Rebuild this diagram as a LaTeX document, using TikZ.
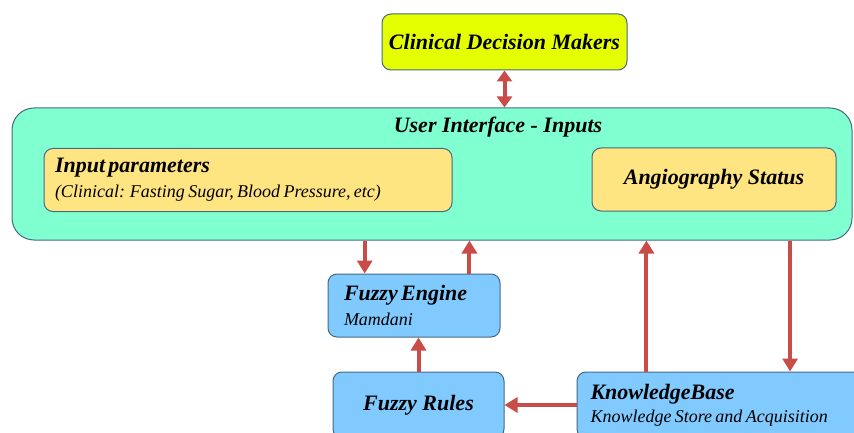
\documentclass[tikz,border=0pt]{standalone}
\usepackage{fontspec}
\setmainfont{Liberation Serif}
\usetikzlibrary{positioning,calc,arrows.meta}
\definecolor{myyellow}{RGB}{230,255,0}
\definecolor{myaqua}{RGB}{128,255,208}
\definecolor{mygold}{RGB}{255,228,130}
\definecolor{myblue}{RGB}{128,202,255}
\definecolor{myborder}{RGB}{70,105,130}
\definecolor{myred}{RGB}{200,76,72}
\newcommand{\ttl}{\fontsize{22}{26}\selectfont\bfseries\itshape}
\newcommand{\sub}{\fontsize{18}{22}\selectfont\mdseries\itshape}
\tikzstyle{box}=[draw=myborder,line width=1pt,rounded corners=9pt,inner sep=0pt]
\tikzstyle{arr}=[-{Triangle[length=13pt,width=15pt]},draw=myred,fill=myred,line width=4pt]
\tikzstyle{darr}=[{Triangle[length=11pt,width=15pt]}-{Triangle[length=11pt,width=15pt]},draw=myred,fill=myred,line width=4pt]

\begin{document}
\begin{tikzpicture}[x=1pt,y=-1pt]
      \useasboundingbox (0,0) rectangle (854,433);
      \clip (0,0) rectangle (854,433);
      \node (cdm) at (504.5,42) [box, fill=myyellow, minimum width=245pt, minimum height=56pt] {\ttl Clinical Decision Makers};
      \node (ui) at (432,174) [box, fill=myaqua, rounded corners=22pt, minimum width=840pt, minimum height=132pt] {};
      \node (uititle) at (498,127) {\ttl User Interface - Inputs};
      \node (ip) at (248,180) [box, fill=mygold, minimum width=408pt, minimum height=63pt, text width=386pt, align=left] {\ttl Input parameters\\[7pt] \sub (Clinical: Fasting Sugar, Blood Pressure, etc)};
      \node (as) at (714,179.5) [box, fill=mygold, minimum width=244pt, minimum height=63pt] {\ttl Angiography Status};

      \node (fe) at (414,305.5) [box, fill=myblue, minimum width=172pt, minimum height=63pt, text width=140pt, align=left] {\ttl Fuzzy Engine\\[7pt] \sub Mamdani};
      \node (fr) at (418.5,405) [box, fill=myblue, minimum width=171pt, minimum height=66pt] {\ttl Fuzzy Rules};
      \node (kb) at (738.5,405) [box, fill=myblue, minimum width=323pt, minimum height=66pt, text width=296pt, align=left] {\ttl KnowledgeBase\\[5pt] \sub Knowledge Store and Acquisition};

      \draw[darr] (cdm.south) -- (cdm.south |- ui.north);
      \draw[arr] (fe.147.3 |- ui.south) -- (fe.147.3);
      \draw[arr] (fe.30.3) -- (fe.30.3 |- ui.south);
      \draw[arr] (fr.north) -- (fr.north |- fe.south);
      \draw[arr] (kb.west) -- (fr.east);
      \draw[arr] (kb.160.9) -- (kb.160.9 |- ui.south);
      \draw[arr] (kb.33.7 |- ui.south) -- (kb.33.7);
\end{tikzpicture}
\end{document}
